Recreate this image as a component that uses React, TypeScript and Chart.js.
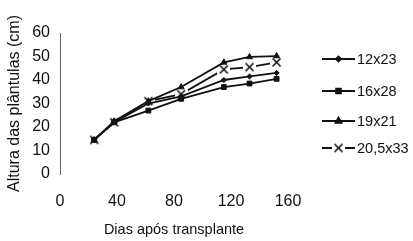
import React, { useEffect, useRef } from "react";
import { Chart, registerables } from "chart.js";
import { drawPoint } from "chart.js/helpers";

Chart.register(...registerables);

const days = [24, 38, 62, 85, 115, 133, 152];
const seriesLabels = ["12x23", "16x28", "19x21", "20,5x33"];
const s12x23 = [14.5, 22, 30, 33, 40, 41.5, 43];
const s16x28 = [14.5, 22, 27, 32, 37, 38.5, 40.5];
const s19x21 = [14.5, 22.5, 31, 37, 47.5, 49.8, 50.2];
const s20x33 = [14.5, 22, 31, 34, 44.5, 45.5, 47.5];
const xTicks = [0, 40, 80, 120, 160];
const yTicks = [0, 10, 20, 30, 40, 50, 60];

const FONT = "'Liberation Sans', Arial, sans-serif";
const INK = "#111";

function makeXMarker(): HTMLCanvasElement {
  const c = document.createElement("canvas");
  c.width = 13;
  c.height = 11;
  const g = c.getContext("2d")!;
  g.fillStyle = "#fff";
  g.fillRect(0, 1, 13, 9);
  g.strokeStyle = INK;
  g.lineWidth = 1.6;
  g.beginPath();
  g.moveTo(2.5, 1.5);
  g.lineTo(10.5, 9.5);
  g.moveTo(10.5, 1.5);
  g.lineTo(2.5, 9.5);
  g.stroke();
  return c;
}

export default function App() {
  const ref = useRef<HTMLCanvasElement>(null);

  useEffect(() => {
    const xMarker = makeXMarker();
    const styles: any[] = [
      { pointStyle: "rectRot", radius: 2.6 },
      { pointStyle: "rect", radius: 3.4 },
      { pointStyle: "triangle", radius: 3.5 },
      { pointStyle: xMarker, radius: 5 },
    ];
    const values = [s12x23, s16x28, s19x21, s20x33];
    const datasets = values.map((vals, i) => ({
      label: seriesLabels[i],
      data: vals.map((v, j) => ({ x: days[j], y: v })),
      borderColor: INK,
      backgroundColor: INK,
      borderWidth: 1.8,
      pointStyle: styles[i].pointStyle,
      pointRadius: styles[i].radius,
      pointBackgroundColor: INK,
      pointBorderColor: INK,
      pointBorderWidth: 1,
      tension: 0,
    }));

    const legendRows = [59, 91, 121, 148];
    const legendPlugin = {
      id: "customLegend",
      afterDraw(chart: any) {
        const ctx = chart.ctx;
        ctx.save();
        chart.data.datasets.forEach((ds: any, i: number) => {
          const y = legendRows[i];
          ctx.strokeStyle = INK;
          ctx.lineWidth = 1.8;
          ctx.beginPath();
          ctx.moveTo(322, y);
          ctx.lineTo(355, y);
          ctx.stroke();
          ctx.fillStyle = INK;
          drawPoint(
            ctx,
            {
              pointStyle: styles[i].pointStyle,
              radius: styles[i].radius,
              rotation: 0,
              borderWidth: 1,
            } as any,
            338.5,
            y
          );
          ctx.fillStyle = INK;
          ctx.font = `14.5px ${FONT}`;
          ctx.textBaseline = "middle";
          ctx.textAlign = "left";
          ctx.fillText(ds.label, 357, y + 1);
        });
        ctx.restore();
      },
    };

    const chart = new Chart(ref.current!, {
      type: "line",
      data: { datasets },
      options: {
        animation: false,
        responsive: false,
        maintainAspectRatio: false,
        layout: { padding: { top: 33, right: 125, left: 0, bottom: 0 } },
        plugins: { legend: { display: false }, tooltip: { enabled: false } },
        scales: {
          x: {
            type: "linear",
            min: 0,
            max: 160,
            afterFit: (s: any) => {
              s.height = 67;
            },
            afterBuildTicks: (s: any) => {
              s.ticks = xTicks.map((v) => ({ value: v }));
            },
            grid: { display: false, drawTicks: false },
            border: { display: false },
            ticks: {
              padding: 18,
              color: INK,
              font: { family: FONT, size: 16 },
              maxRotation: 0,
            },
            title: {
              display: true,
              text: "Dias após transplante",
              color: INK,
              font: { family: FONT, size: 14.5 },
              padding: { top: 2, bottom: 2 },
            },
          },
          y: {
            type: "linear",
            min: 0,
            max: 60,
            afterFit: (s: any) => {
              s.width = 60;
            },
            afterBuildTicks: (s: any) => {
              s.ticks = yTicks.map((v) => ({ value: v }));
            },
            grid: { display: false, drawTicks: false },
            border: { display: true, color: "#666", width: 1 },
            ticks: {
              padding: 10,
              color: INK,
              font: { family: FONT, size: 16 },
            },
            title: {
              display: true,
              text: "Altura das plântulas (cm)",
              color: INK,
              font: { family: FONT, size: 16 },
              padding: { top: 5, bottom: 2 },
            },
          },
        },
      } as any,
      plugins: [legendPlugin],
    });
    return () => chart.destroy();
  }, []);

  return (
    <div style={{ position: "fixed", left: 0, top: 0, width: 413, height: 241, background: "#fff" }}>
      <canvas ref={ref} width={413} height={241} style={{ width: 413, height: 241, display: "block" }} />
    </div>
  );
}
